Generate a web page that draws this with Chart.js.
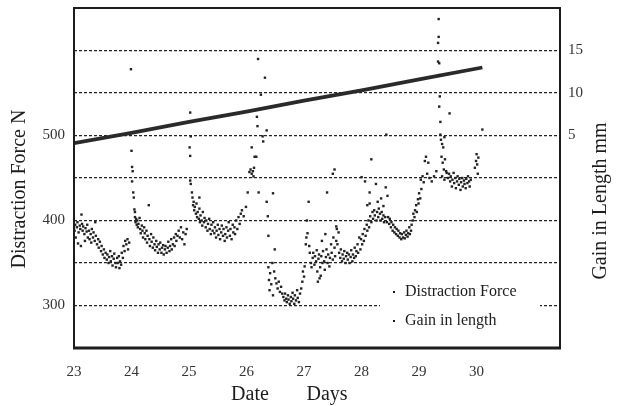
<!DOCTYPE html>
<html>
<head>
<meta charset="utf-8">
<script src="https://cdn.jsdelivr.net/npm/chart.js@4.4.1/dist/chart.umd.min.js"></script>
<style>
  body { margin: 0; background: #fff; }
  canvas { display: block; }
</style>
</head>
<body>
<canvas id="forceChart" width="623" height="406"></canvas>
<script>
// Axis ticks
const dayTicks = [23, 24, 25, 26, 27, 28, 29, 30];
const forceGrid = [300, 350, 400, 450, 500, 550, 600];
const forceLabels = [300, 400, 500];
const gainTicks = [5, 10, 15];

// Gain in length (mm), once per day
const gainDays = [23, 24, 25, 26, 27, 28, 29, 30.1];
const gainMm = [4.1, 5.3, 6.6, 7.8, 9.1, 10.3, 11.6, 13.0];

// Distraction force readings [day, N]
const force23 = [[23.01,388],[23.02,395],[23.03,380],[23.05,392],[23.06,398],[23.07,373],[23.08,386],[23.10,394],[23.11,390],[23.12,370],[23.13,407],[23.14,396],[23.15,388],[23.16,393],[23.18,384],[23.19,376],[23.20,391],[23.22,387],[23.23,395],[23.24,380],[23.26,388],[23.27,378],[23.29,384],[23.30,374],[23.31,390],[23.33,380],[23.34,386],[23.36,376],[23.37,398],[23.38,382],[23.40,372],[23.42,378],[23.43,368],[23.45,375],[23.47,364],[23.48,370],[23.50,360],[23.52,366],[23.53,356],[23.55,362],[23.57,354],[23.58,360],[23.60,350],[23.61,357],[23.63,364],[23.64,352],[23.66,358],[23.67,347],[23.69,355],[23.70,361],[23.72,350],[23.73,345],[23.75,356],[23.76,350],[23.78,358],[23.79,344],[23.80,352],[23.82,348],[23.83,362],[23.85,356],[23.86,370],[23.88,364],[23.89,376],[23.91,372],[23.93,378],[23.94,366],[23.96,374]];

const force24 = [[23.99,578],[24.00,482],[24.01,463],[24.02,458],[24.01,446],[24.03,433],[24.04,427],[24.05,413],[24.06,410],[24.06,404],[24.07,398],[24.08,402],[24.09,395],[24.10,400],[24.11,392],[24.12,396],[24.14,403],[24.15,390],[24.16,385],[24.18,394],[24.19,388],[24.20,380],[24.22,392],[24.23,385],[24.24,378],[24.26,388],[24.27,374],[24.28,382],[24.30,418],[24.31,378],[24.32,370],[24.34,384],[24.35,375],[24.37,368],[24.38,380],[24.40,372],[24.41,365],[24.43,376],[24.44,369],[24.46,362],[24.47,372],[24.49,366],[24.50,374],[24.52,362],[24.53,368],[24.55,371],[24.56,360],[24.58,366],[24.59,370],[24.61,362],[24.63,368],[24.64,375],[24.66,364],[24.67,370],[24.69,378],[24.70,366],[24.72,372],[24.74,380],[24.75,370],[24.77,384],[24.78,376],[24.80,382],[24.82,388],[24.84,380],[24.86,392],[24.88,378],[24.90,386],[24.92,372],[24.94,384],[24.96,390]];

const force25 = [[25.02,527],[25.03,499],[25.01,486],[25.02,476],[25.02,447],[25.03,443],[25.05,433],[25.06,427],[25.07,418],[25.08,422],[25.09,412],[25.10,416],[25.12,408],[25.13,420],[25.14,404],[25.15,410],[25.17,402],[25.18,427],[25.18,414],[25.19,398],[25.20,406],[25.22,400],[25.23,394],[25.24,410],[25.26,398],[25.27,403],[25.29,392],[25.30,400],[25.32,388],[25.33,396],[25.35,402],[25.36,390],[25.38,384],[25.39,395],[25.41,388],[25.42,398],[25.44,385],[25.45,392],[25.47,380],[25.48,388],[25.50,395],[25.51,383],[25.53,390],[25.54,378],[25.56,386],[25.57,394],[25.59,382],[25.60,390],[25.62,376],[25.63,384],[25.65,392],[25.66,380],[25.68,388],[25.69,398],[25.71,382],[25.72,390],[25.74,378],[25.76,395],[25.77,386],[25.79,392],[25.80,384],[25.82,400],[25.84,390],[25.86,404],[25.88,396],[25.90,408],[25.92,412],[25.95,405]];

const force26 = [[25.99,416],[26.02,433],[26.05,457],[26.07,460],[26.09,486],[26.09,455],[26.11,458],[26.12,452],[26.13,462],[26.14,475],[26.17,475],[26.18,522],[26.19,511],[26.20,590],[26.21,433],[26.25,548],[26.28,499],[26.29,493],[26.32,568],[26.35,506],[26.35,422],[26.37,405],[26.38,382],[26.46,432],[26.49,366],[26.38,345],[26.39,330],[26.40,318],[26.41,338],[26.43,325],[26.45,350],[26.46,312],[26.48,340],[26.50,332],[26.52,326],[26.54,320],[26.56,328],[26.58,316],[26.60,322],[26.62,314],[26.64,310],[26.66,306],[26.67,314],[26.69,308],[26.70,304],[26.72,312],[26.73,307],[26.75,302],[26.77,310],[26.78,305],[26.80,315],[26.81,308],[26.83,302],[26.84,312],[26.86,306],[26.88,318],[26.89,309],[26.91,304],[26.93,314],[26.95,320]];

const force27 = [[26.97,328],[26.98,340],[27.00,334],[27.01,346],[27.03,372],[27.04,380],[27.05,400],[27.06,385],[27.08,422],[27.09,370],[27.10,362],[27.12,350],[27.13,345],[27.15,356],[27.16,362],[27.18,348],[27.19,358],[27.21,352],[27.22,365],[27.23,340],[27.24,328],[27.25,355],[27.26,360],[27.27,332],[27.28,345],[27.29,335],[27.30,358],[27.31,376],[27.32,350],[27.33,364],[27.35,352],[27.36,342],[27.37,384],[27.38,357],[27.39,366],[27.40,433],[27.41,350],[27.42,360],[27.44,346],[27.45,356],[27.47,372],[27.48,362],[27.50,354],[27.50,455],[27.51,380],[27.53,368],[27.53,460],[27.54,358],[27.56,376],[27.56,393],[27.57,390],[27.58,372],[27.60,386],[27.61,362],[27.63,356],[27.64,366],[27.66,352],[27.67,360],[27.69,355],[27.70,364],[27.72,350],[27.73,358],[27.75,362],[27.76,354],[27.78,360],[27.79,350],[27.81,357],[27.82,365],[27.84,352],[27.85,360],[27.87,356],[27.88,368],[27.90,358],[27.91,364],[27.93,372],[27.94,362],[27.96,380]];

const force28 = [[27.98,366],[27.99,378],[28.00,451],[28.01,372],[28.02,384],[28.04,376],[28.05,390],[28.06,446],[28.07,382],[28.09,395],[28.10,418],[28.10,388],[28.12,400],[28.13,392],[28.14,420],[28.14,433],[28.15,405],[28.17,472],[28.17,398],[28.19,410],[28.20,402],[28.22,412],[28.23,406],[28.25,443],[28.26,400],[28.27,410],[28.28,422],[28.29,404],[28.30,414],[28.32,408],[28.33,400],[28.34,426],[28.35,410],[28.36,402],[28.38,417],[28.38,406],[28.39,398],[28.41,404],[28.42,439],[28.43,501],[28.44,398],[28.45,429],[28.46,404],[28.48,396],[28.49,402],[28.51,392],[28.52,398],[28.54,388],[28.55,395],[28.57,386],[28.58,392],[28.60,384],[28.61,390],[28.63,382],[28.64,388],[28.66,380],[28.67,385],[28.69,378],[28.70,384],[28.72,380],[28.74,386],[28.75,379],[28.77,383],[28.78,388],[28.80,381],[28.81,385],[28.83,392],[28.84,384],[28.86,388],[28.87,395]];

const force29 = [[28.89,400],[28.90,408],[28.92,404],[28.93,412],[28.95,418],[28.96,410],[28.98,425],[28.99,420],[29.00,432],[29.02,426],[29.03,448],[29.04,437],[29.06,452],[29.08,445],[29.10,470],[29.12,475],[29.14,455],[29.16,468],[29.18,450],[29.22,446],[29.26,452],[29.30,458],[29.34,637],[29.34,616],[29.33,609],[29.33,587],[29.35,585],[29.35,571],[29.36,546],[29.35,534],[29.53,526],[29.37,516],[29.37,501],[29.38,495],[29.40,490],[29.42,486],[29.44,498],[29.39,475],[29.41,468],[29.43,460],[29.45,472],[29.47,458],[29.40,452],[29.44,448],[29.48,456],[29.50,450],[29.52,455],[29.54,446],[29.55,452],[29.57,440],[29.58,448],[29.60,456],[29.61,444],[29.63,450],[29.64,438],[29.66,446],[29.67,452],[29.69,442],[29.70,449],[29.72,436],[29.73,445],[29.75,450],[29.76,440],[29.78,447],[29.79,443],[29.81,438],[29.82,449],[29.84,444],[29.85,452],[29.87,446],[29.88,440],[29.90,448],[29.97,462],[29.99,470],[30.00,478],[30.01,466],[30.03,474],[30.02,455],[30.10,507]];

const forceReadings = [].concat(force23, force24, force25, force26, force27, force28, force29);

const serif = "'Liberation Serif', 'Times New Roman', serif";
const ink = '#1c1c1c';

// Frame, axis titles and the small legend box
const chartText = {
  id: 'chartText',
  afterDraw(chart) {
    const { ctx, chartArea: a } = chart;
    const midY = (a.top + a.bottom) / 2;
    ctx.save();

    ctx.strokeStyle = ink;
    ctx.lineWidth = 2;
    ctx.strokeRect(a.left, a.top, a.right - a.left, a.bottom - a.top);
    ctx.lineWidth = 3;
    ctx.beginPath();
    ctx.moveTo(a.left - 1, a.bottom);
    ctx.lineTo(a.right + 1, a.bottom);
    ctx.stroke();

    // legend
    const lx = a.right - 180, ly = a.bottom - 72;
    ctx.fillStyle = '#fff';
    ctx.fillRect(lx, ly, 160, 58);
    ctx.font = '16px ' + serif;
    ctx.textAlign = 'left';
    ctx.textBaseline = 'middle';
    chart.data.datasets.forEach((ds, i) => {
      const y = ly + 16 + i * 29;
      ctx.fillStyle = ink;
      ctx.fillRect(lx + 13, y - 1, 2, 2);
      ctx.fillText(ds.label, lx + 25, y);
    });

    // axis titles
    ctx.font = '20px ' + serif;
    ctx.fillStyle = ink;
    ctx.textAlign = 'center';
    ctx.fillText('Date', a.left + 176, a.bottom + 47);
    ctx.fillText('Days', a.left + 253, a.bottom + 47);

    ctx.save();
    ctx.translate(20, midY + 11);
    ctx.rotate(-Math.PI / 2);
    ctx.fillText('Distraction Force N', 0, 0);
    ctx.restore();

    ctx.save();
    ctx.translate(a.right + 41, midY + 23);
    ctx.rotate(-Math.PI / 2);
    ctx.fillText('Gain in Length mm', 0, 0);
    ctx.restore();

    ctx.restore();
  }
};

const tickFont = { family: serif, size: 15 };

// fixed-size axes, no extra label padding at the ends
const fixWidth = w => s => { s.width = w; s.paddingTop = 0; s.paddingBottom = 0; };

new Chart(document.getElementById('forceChart'), {
  type: 'scatter',
  data: {
    datasets: [{
      label: 'Distraction Force',
      data: forceReadings.map(([d, n]) => ({ x: d, y: n })),
      yAxisID: 'y',
      pointStyle: 'rect',
      pointRadius: 1.7,
      borderWidth: 0,
      backgroundColor: '#222'
    }, {
      type: 'line',
      label: 'Gain in length',
      data: gainDays.map((d, i) => ({ x: d, y: gainMm[i] })),
      yAxisID: 'y2',
      borderColor: '#2a2a2a',
      borderWidth: 3.8,
      pointRadius: 0,
      tension: 0,
      fill: false
    }]
  },
  options: {
    responsive: false,
    animation: false,
    events: [],
    layout: { padding: { top: 8, left: 0, right: 0, bottom: 0 } },
    plugins: { legend: { display: false }, tooltip: { enabled: false } },
    scales: {
      x: {
        type: 'linear',
        min: 23,
        max: 31.45,
        afterBuildTicks: s => { s.ticks = dayTicks.map(v => ({ value: v })); },
        afterFit: s => { s.height = 58; s.paddingLeft = 0; s.paddingRight = 0; },
        grid: { display: false },
        border: { display: false },
        ticks: { font: tickFont, color: '#333', padding: 7 }
      },
      y: {
        position: 'left',
        min: 250,
        max: 650,
        afterBuildTicks: s => { s.ticks = forceGrid.map(v => ({ value: v })); },
        afterFit: fixWidth(74),
        grid: { drawTicks: false, color: '#222', lineWidth: 1.2, borderDash: [3, 2] },
        border: { display: false, dash: [3, 2] },
        ticks: {
          font: tickFont,
          color: '#333',
          padding: 9,
          callback: v => forceLabels.includes(v) ? String(v) : ''
        }
      },
      y2: {
        position: 'right',
        min: -20,
        max: 20,
        afterBuildTicks: s => { s.ticks = gainTicks.map(v => ({ value: v })); },
        afterFit: fixWidth(63),
        grid: { display: false, drawTicks: false },
        border: { display: false },
        ticks: { font: tickFont, color: '#333', padding: 8 }
      }
    }
  },
  plugins: [chartText]
});
</script>
</body>
</html>
